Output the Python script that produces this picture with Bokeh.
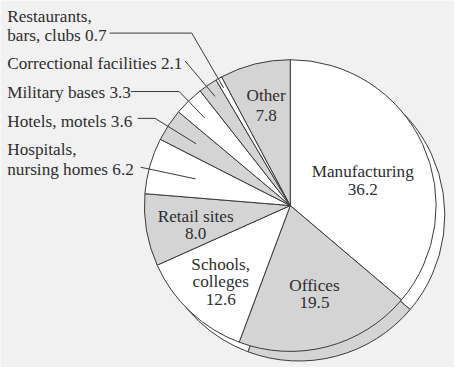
import math
from bokeh.plotting import figure
from bokeh.models import Range1d
from bokeh.core.properties import value
from bokeh.embed import file_html
from bokeh.resources import INLINE

# ---- data (clockwise from 12 o'clock) ----
categories = ["Manufacturing", "Offices", "Schools, colleges", "Retail sites",
              "Hospitals, nursing homes", "Hotels, motels", "Military bases",
              "Correctional facilities", "Restaurants, bars, clubs", "Other"]
values = [36.2, 19.5, 12.6, 8.0, 6.2, 3.6, 3.3, 2.1, 0.7, 7.8]
fills = ["white", "#d4d4d4", "white", "#d4d4d4", "white", "#d4d4d4",
         "white", "#d4d4d4", "white", "#d4d4d4"]

# inside labels: (category index, lines)
inside_idx = [0, 1, 2, 3, 9]
inside_lines = [["Manufacturing", "36.2"], ["Offices", "19.5"],
                ["Schools,", "colleges", "12.6"], ["Retail sites", "8.0"],
                ["Other", "7.8"]]
# outside labels
outside_idx = [8, 7, 6, 5, 4]
outside_lines = [["Restaurants,", "bars, clubs 0.7"],
                 ["Correctional facilities 2.1"],
                 ["Military bases 3.3"],
                 ["Hotels, motels 3.6"],
                 ["Hospitals,", "nursing homes 6.2"]]

# ---- layout (coordinates on a 470 x 383 canvas, y downward negated) ----
BG = "#f1f1f1"
LINE = "#3a3a3a"
TXT = "#2e2e2e"
FONT = "Liberation Serif"
FS = "17.2px"
CX, CY, R = 300, -214, 151
SHX, SHY = 9, -10

# position of the first line of each inside label
inside_pos = [(375, -178), (325, -297), (228, -275), (202, -225), (275, -99)]
inside_step = [19.5, 18.5, 18.5, 18.5, 21]
outside_y = [17, 66, 96, 126, 156]
outside_step = 20
leader_start = [(113, -34), (191, -63), (135, -95), (142, -123), (145, -174)]
leader_elbow = [(198, -34), None, (185, -95), (160, -123), None]
leader_r = [141, 138, 127, 117, 102]

p = figure(width=454, height=367, output_backend="svg", toolbar_location=None,
           x_range=Range1d(0, 470), y_range=Range1d(-383, 0), min_border=0)
p.axis.visible = False
p.grid.visible = False
p.outline_line_color = None
p.background_fill_color = BG
p.border_fill_color = BG

total = sum(values)
starts, ends, mids = [], [], []
cum = 0.0
for v in values:
    a0 = 90 - cum / total * 360
    cum += v
    a1 = 90 - cum / total * 360
    starts.append(math.radians(a1))
    ends.append(math.radians(a0))
    mids.append(math.radians((a0 + a1) / 2))

# shadow pie
p.wedge(x=[CX + SHX] * len(values), y=[CY + SHY] * len(values), radius=R,
        start_angle=starts, end_angle=ends, fill_color=fills,
        line_color=LINE, line_width=1)
# main pie
p.wedge(x=[CX] * len(values), y=[CY] * len(values), radius=R,
        start_angle=starts, end_angle=ends, fill_color=fills,
        line_color=LINE, line_width=1)

# inside labels
for (cx, cy), lines, step in zip(inside_pos, inside_lines, inside_step):
    n = len(lines)
    ys = [cy - i * step for i in range(n)]
    p.text(x=[cx] * n, y=ys, text=lines, text_align="center",
           text_baseline="middle", text_font=value(FONT), text_font_size=FS,
           text_color=TXT)

# outside labels + leaders
for k, idx in enumerate(outside_idx):
    lines = outside_lines[k]
    n = len(lines)
    ys = [-(outside_y[k] + i * outside_step) for i in range(n)]
    p.text(x=[7] * n, y=ys, text=lines, text_align="left",
           text_baseline="middle", text_font=value(FONT), text_font_size=FS,
           text_color=TXT)
    ex = CX + leader_r[k] * math.cos(mids[idx])
    ey = CY + leader_r[k] * math.sin(mids[idx])
    pts = [leader_start[k]]
    if leader_elbow[k] is not None:
        pts.append(leader_elbow[k])
    pts.append((ex, ey))
    p.line(x=[q[0] for q in pts], y=[q[1] for q in pts], line_color=LINE,
           line_width=1)

open("out.html", "w").write(file_html(p, INLINE))
